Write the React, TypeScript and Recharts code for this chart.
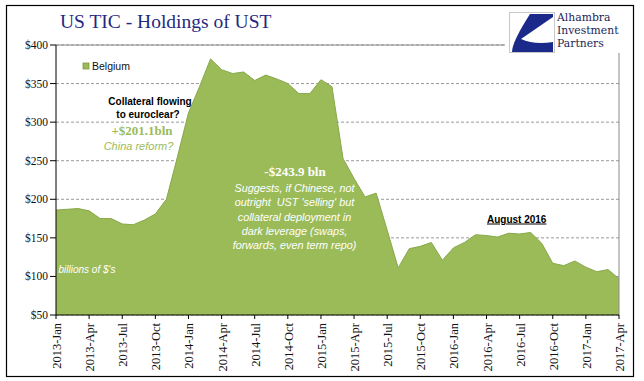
import React from "react";
import {
  AreaChart,
  Area,
  XAxis,
  YAxis,
  CartesianGrid,
  ReferenceLine,
} from "recharts";

const YEARS = ["2013", "2014", "2015", "2016", "2017"];
const MONTHS = ["Jan", "Feb", "Mar", "Apr", "May", "Jun", "Jul", "Aug", "Sep", "Oct", "Nov", "Dec"];

// Belgium holdings of UST, billions of $, monthly 2013-Jan .. 2017-Apr
const BELGIUM = [
  186, 187, 188, 185, 175, 175, 168, 167, 173, 181, 200, 255,
  312, 346, 382, 368, 363, 365, 354, 361, 356, 350, 337, 337,
  355, 346, 253, 227, 203, 208, 160, 111, 136, 139, 144, 121,
  137, 144, 154, 153, 151, 156, 155, 157, 143, 117, 114, 120,
  112, 106, 109, 97,
];

const CATEGORIES: string[] = [];
YEARS.forEach((y) => MONTHS.forEach((m) => CATEGORIES.push(`${y}-${m}`)));

const Y_TICKS = [50, 100, 150, 200, 250, 300, 350, 400];

const DATA = BELGIUM.map((v, i) => ({ label: CATEGORIES[i], belgium: v }));

const SERIF = "'Liberation Serif', 'Times New Roman', serif";
const SANS = "'Liberation Sans', Arial, sans-serif";
const GREEN = "#9BBB59";
const NAVY = "#1F2A80";

const XTick = (props: any) => {
  const { x, y, payload } = props;
  return (
    <g transform={`translate(${x + 5},${y + 4})`}>
      <text
        transform="rotate(-90)"
        textAnchor="end"
        fontFamily={SERIF}
        fontSize={12.5}
        fill="#111"
      >
        {payload.value}
      </text>
    </g>
  );
};

const YTick = (props: any) => {
  const { x, y, payload } = props;
  return (
    <text
      x={x}
      y={y + 4}
      textAnchor="end"
      fontFamily={SERIF}
      fontSize={11.5}
      fill="#111"
    >
      {`$${payload.value}`}
    </text>
  );
};

const Overlay = () => (
  <svg
    width={644}
    height={381}
    style={{ position: "absolute", left: 0, top: 0, pointerEvents: "none" }}
  >
    <rect x={6.5} y={5.5} width={627} height={371} fill="none" stroke="#000" strokeWidth={1.2} />
    <text x={60} y={28} fontFamily={SERIF} fontSize={19.5} fill={NAVY}>
      US TIC - Holdings of UST
    </text>
    {/* logo */}
    <rect x={505} y={9} width={120} height={44} fill="#fff" />
    <rect x={509.5} y={12.5} width={45} height={40} fill="#fff" stroke="#c8c8c8" />
    <path d="M530,14 L553,14 L553,52 L512,52 Q512,42 530,14 Z" fill="#1B2A8A" />
    <path d="M553,17 L521,39 Q534,45 553,42 Z" fill="#fff" />
    <text x={557} y={21} fontFamily="'DejaVu Serif', serif" fontSize={10.8} fill="#1C2458">Alhambra</text>
    <text x={557} y={34} fontFamily="'DejaVu Serif', serif" fontSize={10.8} fill="#1C2458">Investment</text>
    <text x={557} y={47} fontFamily="'DejaVu Serif', serif" fontSize={10.8} fill="#1C2458">Partners</text>
    {/* legend */}
    <rect x={83} y={63} width={6} height={6} fill={GREEN} stroke="#7C9A3E" strokeWidth={0.8} />
    <text x={92} y={69.5} fontFamily={SANS} fontSize={10.5} fill="#111">Belgium</text>
    {/* annotations */}
    <text x={150} y={105} textAnchor="middle" fontFamily={SANS} fontSize={10} fontWeight="bold" fill="#000">
      Collateral flowing
    </text>
    <text x={148} y={117.5} textAnchor="middle" fontFamily={SANS} fontSize={10} fontWeight="bold" fill="#000">
      to euroclear?
    </text>
    <text x={142} y={134.5} textAnchor="middle" fontFamily={SERIF} fontSize={13} fontWeight="bold" fill={GREEN}>
      +$201.1bln
    </text>
    <text x={138.5} y={150} textAnchor="middle" fontFamily={SANS} fontSize={11} fontStyle="italic" fill={GREEN}>
      China reform?
    </text>
    <text x={295} y={176} textAnchor="middle" fontFamily={SERIF} fontSize={13} fontWeight="bold" fill="#fff">
      -$243.9 bln
    </text>
    {[
      "Suggests, if Chinese, not",
      "outright  UST 'selling' but",
      "collateral deployment in",
      "dark leverage (swaps,",
      "forwards, even term repo)",
    ].map((t, i) => (
      <text
        key={i}
        x={294.5}
        y={191.7 + i * 14.4}
        textAnchor="middle"
        fontFamily={SANS}
        fontSize={10.8}
        fontStyle="italic"
        fill="#fff"
        style={{ whiteSpace: "pre" }}
      >
        {t}
      </text>
    ))}
    <text x={516.7} y={222.5} textAnchor="middle" fontFamily={SANS} fontSize={10} fontWeight="bold" fill="#000" textDecoration="underline">
      August 2016
    </text>
    <text x={58.5} y={273} fontFamily={SANS} fontSize={10} fontStyle="italic" fill="#fff">
      billions of $'s
    </text>
  </svg>
);

export default function App() {
  return (
    <div style={{ position: "absolute", left: 0, top: 0, width: 644, height: 381, background: "#fff" }}>
      <AreaChart
        width={644}
        height={381}
        data={DATA}
        margin={{ top: 45, right: 25, bottom: 6, left: 6 }}
      >
        <CartesianGrid horizontal vertical={false} stroke="#9a9a9a" strokeDasharray="3 2" />
        <Area
          type="linear"
          dataKey="belgium"
          fill={GREEN}
          fillOpacity={1}
          stroke="#86A84A"
          strokeWidth={1}
          isAnimationActive={false}
          dot={false}
          activeDot={false}
        />
        <ReferenceLine y={400} stroke="#8a8a8a" />
        <ReferenceLine x={CATEGORIES[51]} stroke="#8a8a8a" />
        <XAxis
          dataKey="label"
          interval={2}
          height={60}
          tick={<XTick />}
          tickSize={4}
          tickMargin={0}
          axisLine={{ stroke: "#000" }}
          tickLine={{ stroke: "#000" }}
        />
        <YAxis
          domain={[50, 400]}
          ticks={Y_TICKS}
          width={50}
          tick={<YTick />}
          tickSize={6}
          axisLine={{ stroke: "#000" }}
          tickLine={{ stroke: "#000" }}
        />
      </AreaChart>
      <Overlay />
    </div>
  );
}
